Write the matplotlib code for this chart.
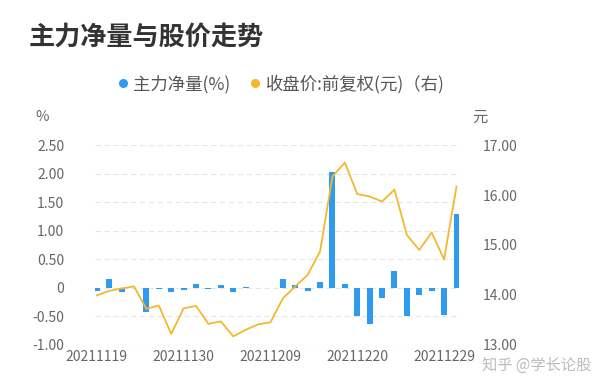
import matplotlib

matplotlib.use("Agg")
import matplotlib.pyplot as plt
from matplotlib.lines import Line2D

plt.rcParams["font.family"] = ["Noto Sans CJK SC", "DejaVu Sans"]

dates = ["20211119", "20211122", "20211123", "20211124", "20211125", "20211126",
         "20211129", "20211130", "20211201", "20211202", "20211203", "20211206",
         "20211207", "20211208", "20211209", "20211210", "20211213", "20211214",
         "20211215", "20211216", "20211217", "20211220", "20211221", "20211222",
         "20211223", "20211224", "20211227", "20211228", "20211229", "20211230"]
net_flow = [-0.05, 0.15, -0.07, 0.0, -0.42, -0.03, -0.08, -0.04, 0.07, -0.02,
            0.05, -0.08, 0.02, -0.01, -0.01, 0.15, 0.05, -0.05, 0.10, 2.03,
            0.06, -0.50, -0.63, -0.18, 0.30, -0.50, -0.13, -0.06, -0.48, 1.30]
close = [13.99, 14.08, 14.13, 14.17, 13.72, 13.79, 13.22, 13.73, 13.78, 13.42,
         13.47, 13.17, 13.30, 13.41, 13.45, 13.93, 14.17, 14.40, 14.87, 16.37,
         16.65, 16.02, 15.97, 15.87, 16.11, 15.20, 14.90, 15.25, 14.71, 16.17]
left_ticks = [-1.0, -0.5, 0.0, 0.5, 1.0, 1.5, 2.0, 2.5]
left_labels = ["-1.00", "-0.50", "0", "0.50", "1.00", "1.50", "2.00", "2.50"]
right_ticks = [13, 14, 15, 16, 17]

BLUE = "#2f9bef"
ORANGE = "#f5b730"
GREY = "#666666"

fig = plt.figure(figsize=(6, 3.91), dpi=100)
ax = fig.add_axes([0.158, 0.118, 0.609, 0.511])
x = list(range(len(dates)))

ax.bar(x, net_flow, width=0.48, color=BLUE, zorder=3)
ax.set_xlim(-0.16, 29.3)
ax.set_ylim(-1.0, 2.5)
ax.set_yticks(left_ticks)
ax.set_yticklabels(left_labels)
ax.set_xticks(x[::7])
ax.set_xticklabels(dates[::7])
for t in left_ticks:
    ax.axhline(t, color="#e6e6e6", lw=0.8, ls=(0, (5, 3)), zorder=1)
for s in ax.spines.values():
    s.set_visible(False)
ax.tick_params(length=0, colors=GREY, labelsize=10)
ax.tick_params(axis="y", pad=22)
ax.tick_params(axis="x", pad=4)

ax2 = ax.twinx()
ax2.plot(x, close, color=ORANGE, lw=1.3, zorder=4)
ax2.set_ylim(13, 17)
ax2.set_yticks(right_ticks)
ax2.set_yticklabels([f"{v:.2f}" for v in right_ticks])
for s in ax2.spines.values():
    s.set_visible(False)
ax2.tick_params(length=0, colors=GREY, labelsize=10, pad=16)

fig.text(0.047, 0.905, "主力净量与股价走势", fontsize=18.8, fontweight="bold",
         color="#333333", va="center")
fig.text(0.07, 0.70, "%", fontsize=10.5, color=GREY, va="center", ha="center")
fig.text(0.80, 0.70, "元", fontsize=11, color=GREY, va="center", ha="center")

handles = [Line2D([], [], ls="", marker="o", ms=5.5, color=BLUE),
           Line2D([], [], ls="", marker="o", ms=5.5, color=ORANGE)]
fig.legend(handles, ["主力净量(%)", "收盘价:前复权(元)（右)"], loc="center",
           bbox_to_anchor=(0.469, 0.785), ncol=2, frameon=False, fontsize=12.5,
           handlelength=0.5, handletextpad=0.35, columnspacing=1.2,
           labelcolor="#555555")

fig.text(0.985, 0.065, "知乎 @学长论股", fontsize=11, color="#bbbbbb",
         ha="right", va="center")

fig.savefig("out.png", dpi=100, facecolor="white")
